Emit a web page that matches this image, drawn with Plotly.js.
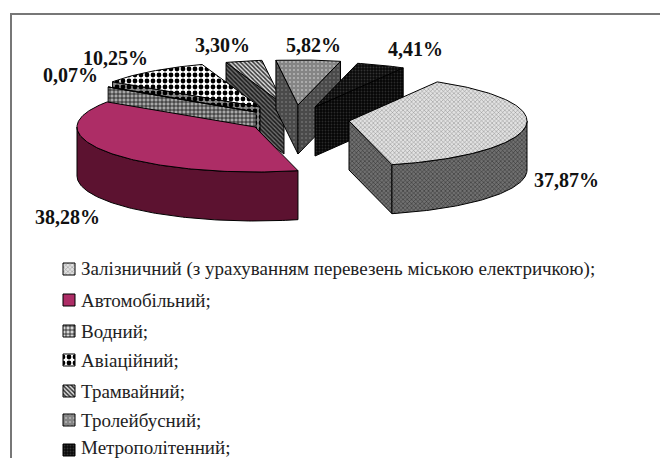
<!DOCTYPE html>
<html><head><meta charset="utf-8">
<script src="https://cdn.plot.ly/plotly-3.0.1.min.js"></script>
<style>html,body{margin:0;padding:0;background:#fff;overflow:hidden}</style>
</head><body><div id="chart" style="width:660px;height:458px"></div>
<script>
// Data
const categories = [
  "Залізничний (з урахуванням перевезень міською електричкою);",
  "Автомобільний;", "Водний;", "Авіаційний;", "Трамвайний;", "Тролейбусний;", "Метрополітенний;"
];
const shares = [37.87, 38.28, 0.07, 10.25, 3.30, 5.82, 4.41];

// Drawing set-up (exploded, tilted pie in page pixels)
const firstAngle = 29.7, radiusX = 178, radiusY = 45, depth = 49;
const apexX = [349, 255, 256, 260, 284, 298, 315];
const apexY = [121, 127, 112, 107, 105, 105, 107];
const drawOrder = [4, 5, 6, 3, 2, 0, 1];
const labelX = [566, 67, 70, 115, 222, 313, 415];
const labelY = [180, 217, 75, 58, 45, 45, 49];
const legendY = [269, 300, 331, 360, 391, 420, 447];
const topStyle = [
  {shape:'x', bgcolor:'#e2e2e2', fgcolor:'#8a8a8a', size:3, solidity:0.3},
  null,
  {shape:'+', bgcolor:'#d8d8d8', fgcolor:'#111111', size:4, solidity:0.35},
  {shape:'.', bgcolor:'#ffffff', fgcolor:'#000000', size:6, solidity:0.5},
  {shape:'\\', bgcolor:'#e0e0e0', fgcolor:'#333333', size:3, solidity:0.5},
  {shape:'.', bgcolor:'#858585', fgcolor:'#b8b8b8', size:4, solidity:0.2},
  {shape:'.', bgcolor:'#0a0a0a', fgcolor:'#333333', size:3, solidity:0.3}
];
const sideStyle = [
  {shape:'x', bgcolor:'#707070', fgcolor:'#2a2a2a', size:3, solidity:0.3},
  null,
  {shape:'+', bgcolor:'#a8a8a8', fgcolor:'#111111', size:4, solidity:0.35},
  {shape:'.', bgcolor:'#8a8a8a', fgcolor:'#000000', size:6, solidity:0.5},
  {shape:'\\', bgcolor:'#6e6e6e', fgcolor:'#1a1a1a', size:3, solidity:0.5},
  {shape:'.', bgcolor:'#4a4a4a', fgcolor:'#6e6e6e', size:4, solidity:0.2},
  {shape:'.', bgcolor:'#050505', fgcolor:'#2a2a2a', size:3, solidity:0.3}
];
const carTop = '#ad2d66', carSide = '#5c1230';

const rad = d => d * Math.PI / 180;
const starts = [];
let acc = firstAngle;
shares.forEach(v => { starts.push(acc); acc += v * 3.6; });

function rim(i, deg, drop) {
  return [apexX[i] + radiusX * Math.sin(rad(deg)), apexY[i] - radiusY * Math.cos(rad(deg)) + (drop || 0)];
}
function arc(i, a, b, drop) {
  const pts = [], n = Math.max(2, Math.ceil(Math.abs(b - a)));
  for (let k = 0; k <= n; k++) pts.push(rim(i, a + (b - a) * k / n, drop));
  return pts;
}
function poly(pts, solid, pattern, lw) {
  const closed = pts.concat([pts[0]]);
  const t = {
    type: 'scatter', mode: 'lines', fill: 'toself', hoverinfo: 'skip', showlegend: false,
    x: closed.map(p => p[0]), y: closed.map(p => p[1]),
    line: {color: '#000000', width: lw === undefined ? 1 : lw},
    fillcolor: pattern ? pattern.bgcolor : solid
  };
  if (pattern) t.fillpattern = Object.assign({fillmode: 'replace'}, pattern);
  return t;
}
const norm = d => ((d % 360) + 360) % 360;
const traces = [];
drawOrder.forEach(i => {
  const a = starts[i], b = a + shares[i] * 3.6;
  const A = [apexX[i], apexY[i]], AD = [apexX[i], apexY[i] + depth];
  const side = sideStyle[i], top = topStyle[i];
  if (norm(a) > 180) traces.push(poly([A, rim(i, a), rim(i, a, depth), AD], carSide, side));
  if (norm(b) < 180) traces.push(poly([A, rim(i, b), rim(i, b, depth), AD], carSide, side));
  const from = Math.max(a, 90), to = Math.min(b, 270);
  if (to > from) traces.push(poly(arc(i, from, to).concat(arc(i, to, from, depth)), carSide, side));
  traces.push(poly([A].concat(arc(i, a, b)), carTop, top));
});
// legend swatches
categories.forEach((c, i) => {
  const y = legendY[i] + (i === 6 ? 3 : 0);
  traces.push(poly([[63, y - 6], [75, y - 6], [75, y + 6], [63, y + 6]], carTop, topStyle[i]));
});

const annotations = [];
shares.forEach((v, i) => annotations.push({
  x: labelX[i], y: labelY[i], xref: 'x', yref: 'y', showarrow: false, xanchor: 'center', yanchor: 'middle',
  text: '<b>' + v.toFixed(2).replace('.', ',') + '%</b>',
  font: {family: 'Liberation Serif', size: 20, color: '#111111'}
}));
categories.forEach((c, i) => annotations.push({
  x: 79, y: legendY[i], xref: 'x', yref: 'y', showarrow: false, xanchor: 'left', yanchor: 'middle',
  text: c, font: {family: 'Liberation Serif', size: 19, color: '#222222'}
}));

Plotly.newPlot('chart', traces, {
  width: 660, height: 458, margin: {l: 0, r: 0, t: 0, b: 0},
  paper_bgcolor: '#ffffff', plot_bgcolor: '#ffffff', showlegend: false,
  xaxis: {range: [0, 660], visible: false, fixedrange: true},
  yaxis: {range: [458, 0], visible: false, fixedrange: true},
  annotations,
  shapes: [
    {type: 'line', xref: 'x', yref: 'y', x0: 11, x1: 11, y0: 14, y1: 458, line: {color: '#777777', width: 2}},
    {type: 'line', xref: 'x', yref: 'y', x0: 10, x1: 660, y0: 14, y1: 14, line: {color: '#777777', width: 2}}
  ]
}, {displayModeBar: false, staticPlot: true});
</script></body></html>
